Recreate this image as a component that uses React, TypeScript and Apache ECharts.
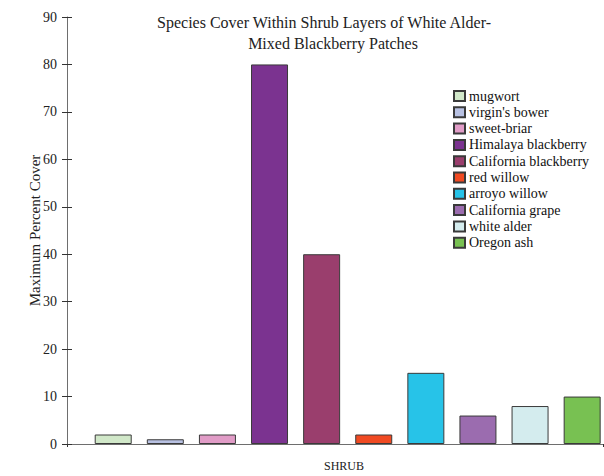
import React, { useEffect, useRef } from "react";
import * as echarts from "echarts";

const species = [
  "mugwort",
  "virgin's bower",
  "sweet-briar",
  "Himalaya blackberry",
  "California blackberry",
  "red willow",
  "arroyo willow",
  "California grape",
  "white alder",
  "Oregon ash",
];
const maxCover = [2, 1, 2, 80, 40, 2, 15, 6, 8, 10];
const colors = [
  "#d1e8c9",
  "#b8c1e2",
  "#e19cc7",
  "#7b3390",
  "#9a3e6d",
  "#f04a22",
  "#27c3e8",
  "#9b6caf",
  "#d4ecee",
  "#78c152",
];
const yTicks = [0, 10, 20, 30, 40, 50, 60, 70, 80, 90];
const titleLines = ["Species Cover Within Shrub Layers of White Alder-", "Mixed Blackberry Patches"];

const FONT = "Liberation Serif";

export default function App() {
  const ref = useRef<HTMLDivElement>(null);
  useEffect(() => {
    if (!ref.current) return;
    const chart = echarts.init(ref.current, null, { renderer: "svg" });
    const titleStyle = { fontFamily: FONT, fontSize: 16, fontWeight: "normal", color: "#222" };
    chart.setOption({
      animation: false,
      backgroundColor: "#ffffff",
      title: [
        { text: titleLines[0], left: 319, top: 9, textAlign: "center", textStyle: titleStyle },
        { text: titleLines[1], left: 328, top: 30, textAlign: "center", textStyle: titleStyle },
      ],
      legend: {
        orient: "vertical",
        left: 448,
        top: 84,
        itemWidth: 11,
        itemHeight: 10,
        itemGap: 2.3,
        icon: "rect",
        textStyle: { fontFamily: FONT, fontSize: 14, color: "#111", padding: [0, 0, 0, -1], lineHeight: 14 },
        data: species,
      },
      grid: { left: 67, right: 1, top: 17, bottom: 32, outerBoundsMode: "none" },
      xAxis: {
        type: "value",
        min: 0.113,
        max: 10.4,
        interval: 100,
        name: "SHRUB",
        nameLocation: "middle",
        nameGap: 16,
        nameMoveOverlap: false,
        nameTextStyle: { fontFamily: FONT, fontSize: 12, color: "#222", padding: [0, 0, 0, 18] },
        axisLine: { show: true, lineStyle: { color: "#6e6e6e", width: 1 } },
        axisTick: { show: true, length: 3, lineStyle: { color: "#333" } },
        axisLabel: { show: false },
        splitLine: { show: false },
      },
      yAxis: [
        {
          type: "value",
          min: 0,
          max: 90,
          interval: 10,
          name: "Maximum Percent Cover",
          nameLocation: "middle",
          nameGap: 25,
          nameMoveOverlap: false,
          nameTextStyle: { fontFamily: FONT, fontSize: 15, color: "#222" },
          axisLine: { show: true, lineStyle: { color: "#6e6e6e", width: 1 } },
          axisTick: { show: true, length: 5, lineStyle: { color: "#333" } },
          axisLabel: {
            fontFamily: FONT,
            fontSize: 14,
            color: "#222",
            margin: 10,
            formatter: (v: number) => (yTicks.includes(v) ? String(v) : ""),
          },
          splitLine: { show: false },
        },
        {
          type: "value",
          min: 0,
          max: 90,
          interval: 10,
          position: "left",
          offset: 0,
          axisLine: { show: false },
          axisTick: { show: true, inside: true, length: 5, lineStyle: { color: "#333" } },
          axisLabel: { show: false },
          splitLine: { show: false },
        },
      ],
      series: species.map((name, i) => ({
        name,
        type: "bar",
        yAxisIndex: 0,
        barWidth: 37,
        barGap: "-100%",
        itemStyle: { color: colors[i], borderColor: "#3a3a3a", borderWidth: 1 },
        data: [[i + 1, maxCover[i]]],
      })),
    });
    return () => chart.dispose();
  }, []);
  return <div ref={ref} style={{ width: 604, height: 476, position: "absolute", left: 0, top: 0 }} />;
}
